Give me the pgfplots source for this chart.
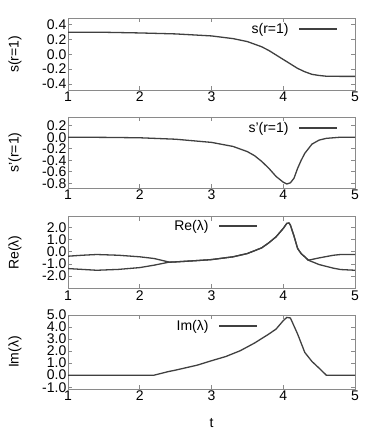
\documentclass[border=0pt]{standalone}
\usepackage{pgfplots}
\pgfplotsset{compat=1.18}
\usepackage{fontspec}
\setmainfont{Liberation Sans}
\definecolor{curve}{HTML}{404040}
\definecolor{frame}{HTML}{8A8A8A}
\newcommand{\gpfont}{\fontsize{14}{15}\selectfont}
\pgfplotsset{
  panel/.style={
    scale only axis, width=287pt,
    xmin=1, xmax=5, xtick={1,2,3,4,5},
    axis line style={draw=frame, line width=0.9pt},
    tick style={draw=frame, line width=0.8pt},
    tick align=inside, major tick length=4pt,
    /pgf/number format/assume math mode=true,
    tick label style={font=\gpfont},
    yticklabel style={/pgf/number format/fixed, /pgf/number format/fixed zerofill, /pgf/number format/precision=1, inner xsep=1.5pt, inner ysep=0pt},
    xticklabel style={inner sep=2pt},
    every axis y label/.style={at={(rel axis cs:0,0.5)}, xshift=-53pt, rotate=90, anchor=center, font=\gpfont},
    every axis x label/.style={at={(rel axis cs:0.5,0)}, yshift=-34pt, anchor=center, font=\gpfont},
    legend plot pos=right,
    legend image code/.code={\draw[##1] (0pt,0pt) -- (38pt,0pt);},
    legend style={draw=none, fill=none, inner sep=0pt, column sep=8pt, font=\gpfont},
  },
  crv/.style={draw=curve, line width=1.3pt, no marks},
}
\begin{document}
\begin{tikzpicture}
\path[use as bounding box] (0,0) rectangle (382pt,431pt);

% s(r=1)
\begin{axis}[panel, at={(68pt,412.5pt)}, anchor=north west, height=71.5pt,
  ymin=-0.48, ymax=0.48, ytick={-0.4,-0.2,0,0.2,0.4},
  ylabel={s(r=1)},
  legend style={at={(rel axis cs:0.941,0.852)}, anchor=east}]
\addplot[crv] coordinates {(1,0.296)(1.5,0.295)(2,0.286)(2.5,0.273)(3,0.246)(3.3,0.21)(3.5,0.17)(3.7,0.10)(3.8,0.05)(3.9,-0.01)(4.0,-0.07)(4.1,-0.13)(4.2,-0.19)(4.3,-0.235)(4.4,-0.27)(4.5,-0.285)(4.6,-0.295)(4.8,-0.297)(5,-0.297)};
\addlegendentry{s(r=1)}
\end{axis}

% s'(r=1)
\begin{axis}[panel, at={(68pt,314pt)}, anchor=north west, height=71pt,
  ymin=-0.88, ymax=0.35, ytick={-0.8,-0.6,-0.4,-0.2,0,0.2},
  ylabel={s'(r=1)},
  legend style={at={(rel axis cs:0.941,0.845)}, anchor=east}]
\addplot[crv] coordinates {(1,0)(1.5,-0.003)(2,-0.01)(2.5,-0.035)(3,-0.09)(3.3,-0.16)(3.5,-0.25)(3.6,-0.32)(3.7,-0.42)(3.8,-0.54)(3.9,-0.68)(4.0,-0.78)(4.05,-0.81)(4.1,-0.79)(4.15,-0.71)(4.2,-0.54)(4.25,-0.40)(4.3,-0.28)(4.4,-0.12)(4.5,-0.05)(4.6,-0.02)(4.8,0)(5,0)};
\addlegendentry{s'(r=1)}
\end{axis}

% Re(lambda)
\begin{axis}[panel, at={(68pt,214.3pt)}, anchor=north west, height=71.5pt,
  ymin=-3.0, ymax=2.9, ytick={-2,-1,0,1,2},
  ylabel={Re(λ)},
  legend style={at={(rel axis cs:0.662,0.87)}, anchor=east}]
\addplot[crv] coordinates {(1,-0.36)(1.2,-0.28)(1.4,-0.22)(1.7,-0.28)(2,-0.41)(2.2,-0.55)(2.4,-0.83)(2.5,-0.83)(2.8,-0.72)(3,-0.64)(3.3,-0.41)(3.5,-0.14)(3.7,0.33)(3.8,0.75)(3.9,1.24)(4.0,1.93)(4.05,2.35)(4.08,2.38)(4.1,2.2)(4.15,1.3)(4.2,0.28)(4.25,-0.15)(4.3,-0.41)(4.35,-0.69)(4.5,-0.5)(4.7,-0.28)(4.8,-0.22)(5,-0.22)};
\addlegendentry{Re(λ)}
\addplot[crv, forget plot] coordinates {(1,-1.38)(1.2,-1.45)(1.4,-1.52)(1.7,-1.45)(2,-1.3)(2.2,-1.1)(2.4,-0.86)(2.5,-0.83)(2.8,-0.72)(3,-0.64)(3.3,-0.41)(3.5,-0.14)(3.7,0.33)(3.8,0.75)(3.9,1.24)(4.0,1.93)(4.05,2.35)(4.08,2.38)(4.1,2.2)(4.15,1.3)(4.2,0.28)(4.25,-0.15)(4.3,-0.41)(4.35,-0.69)(4.5,-1.05)(4.7,-1.35)(4.8,-1.46)(5,-1.52)};
\end{axis}

% Im(lambda)
\begin{axis}[panel, at={(68pt,116pt)}, anchor=north west, height=74pt,
  ymin=-1.15, ymax=5, ytick={-1,0,1,2,3,4,5},
  ylabel={Im(λ)}, xlabel={t},
  legend style={at={(rel axis cs:0.662,0.85)}, anchor=east}]
\addplot[crv] coordinates {(1,0)(2.2,0)(2.4,0.3)(2.5,0.42)(2.8,0.83)(3,1.2)(3.2,1.55)(3.4,2.03)(3.6,2.67)(3.8,3.42)(3.9,3.83)(4.0,4.53)(4.05,4.8)(4.1,4.75)(4.2,3.42)(4.3,1.89)(4.4,1.14)(4.5,0.58)(4.6,0)(5,0)};
\addlegendentry{Im(λ)}
\end{axis}
\end{tikzpicture}
\end{document}
